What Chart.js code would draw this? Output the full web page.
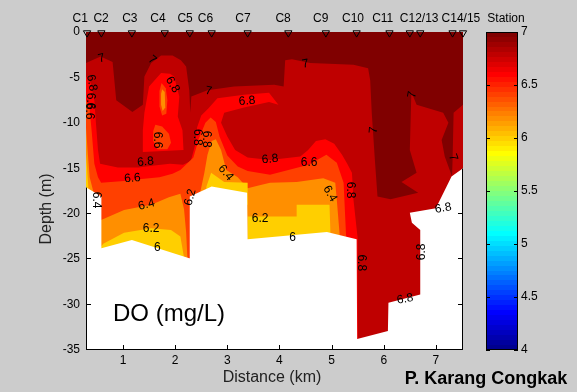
<!DOCTYPE html>
<html><head><meta charset="utf-8">
<script src="https://cdn.jsdelivr.net/npm/chart.js@4.4.0/dist/chart.umd.min.js"></script>
<style>
html,body{margin:0;padding:0;background:#cccccc;width:577px;height:392px;overflow:hidden;}
#main{position:absolute;left:0;top:0;}
#cbar{position:absolute;left:470px;top:0;}
</style></head><body>
<canvas id="main" width="577" height="392"></canvas>
<canvas id="cbar" width="107" height="392"></canvas>
<script>
// ---------------- data ----------------
const X_RANGE = [0.29, 7.52];          // km
const Y_RANGE = [-35, 0];              // m
const xTicks = [1, 2, 3, 4, 5, 6, 7];
const yTicks = [0, -5, -10, -15, -20, -25, -30, -35];
const stationKm = [0.31, 0.585, 1.17, 1.80, 2.28, 2.70, 3.39, 4.17, 4.89, 5.48, 6.11, 6.50, 6.70, 7.32, 7.52];
const stationLabels = ['C1','C2','C3','C4','C5','C6','C7','C8','C9','C10','C11','C12/13','C14/15'];
const stationLabelKm = [0.18, 0.58, 1.13, 1.67, 2.19, 2.58, 3.30, 4.07, 4.79, 5.41, 5.98, 6.68, 7.48];
const levels = [6.0, 6.2, 6.4, 6.6, 6.8, 7.0];
const cbarRange = [4, 7];
const cbarTicks = [4, 4.5, 5, 5.5, 6, 6.5, 7];

// sea floor (bottom of the sampled section), distance km / depth m
const seafloor = [[0.29,-17.1],[0.585,-18.1],[0.585,-23.8],[1.17,-22.9],[2.27,-24.9],[2.28,-18.1],[2.70,-17.0],[3.38,-17.7],[3.39,-22.8],[4.91,-22.0],[5.48,-22.8],[5.49,-33.8],[6.08,-32.9],[6.09,-29.8],[6.70,-28.9],[6.70,-21.8],[6.54,-21.0],[6.50,-19.9],[7.00,-19.4],[7.30,-15.9],[7.52,-15.0]];

// regions with DO < 6.8
const below68 = [
 [[0.29,-4.9],[0.38,-5.6],[0.45,-7.5],[0.48,-10],[0.52,-13],[0.56,-14.5],[0.9,-14.9],[1.3,-14.9],[1.6,-14.7],[1.9,-14.5],[2.15,-14.6],[2.30,-14.2],[2.38,-12.5],[2.42,-10.5],[2.50,-9.2],[2.64,-8.4],[2.81,-7.3],[3.32,-6.9],[3.80,-6.7],[3.98,-8.0],[3.80,-7.7],[3.32,-8.3],[2.94,-8.9],[2.88,-10.0],[3.0,-11.5],[3.15,-13.0],[3.39,-13.8],[3.82,-14.1],[4.40,-13.7],[4.55,-13.0],[4.70,-12.0],[4.88,-11.8],[5.05,-12.3],[5.20,-13.5],[5.30,-14.5],[5.39,-15.5],[5.42,-18.5],[5.50,-22.7],[5.50,-36],[0.29,-36]],
 [[1.73,-4.5],[1.90,-4.6],[1.98,-4.9],[2.08,-7.1],[2.05,-9.3],[2.14,-10.8],[2.16,-13.0],[1.38,-13.2],[1.38,-10.8],[1.41,-8.9],[1.50,-6.0]]
];
// regions with DO < 6.6
const below66 = [
 [[0.29,-7.5],[0.36,-8.5],[0.40,-11],[0.45,-14.5],[0.52,-16.0],[0.58,-16.6],[1.02,-16.4],[1.31,-16.2],[1.70,-16.0],[1.95,-15.6],[2.10,-15.2],[2.35,-13.8],[2.45,-11.8],[2.58,-10.0],[2.68,-9.4],[2.78,-9.9],[2.85,-11.5],[3.0,-13.6],[3.20,-14.8],[3.39,-15.3],[3.82,-15.7],[4.56,-14.6],[4.90,-13.5],[5.10,-14.4],[5.23,-16.6],[5.28,-22.7],[5.28,-36],[0.29,-36]],
 [[1.74,-5.6],[1.82,-6.2],[1.85,-7.5],[1.83,-9.0],[1.75,-9.2],[1.70,-8.2],[1.70,-6.5]],
 [[1.62,-10.2],[1.75,-10.4],[1.88,-11.2],[1.92,-12.2],[1.85,-12.9],[1.66,-12.9],[1.58,-12.0],[1.58,-10.9]]
];
// regions with DO < 6.4
const below64 = [
 [[0.29,-10.5],[0.32,-13],[0.36,-16],[0.45,-18],[0.55,-19.5],[0.58,-20.7],[1.02,-19.6],[1.54,-19.0],[1.88,-18.2],[2.10,-17.8],[2.17,-19.5],[2.21,-22],[2.24,-25.5],[2.24,-36],[0.29,-36]],
 [[2.45,-18.5],[2.56,-15.5],[2.62,-13.5],[2.70,-12.0],[2.78,-11.8],[2.88,-13.0],[2.98,-15.2],[3.20,-16.0],[3.39,-17.2],[3.60,-16.9],[3.82,-16.6],[4.33,-16.5],[4.84,-16.1],[5.07,-16.6],[5.10,-18.5],[5.16,-22.7],[5.16,-36],[2.45,-36]],
 [[1.75,-6.3],[1.80,-6.6],[1.81,-8.3],[1.76,-8.7],[1.73,-8.0],[1.73,-6.8]]
];
// regions with DO < 6.2
const below62 = [
 [[0.50,-24.2],[0.62,-23.3],[1.02,-22.1],[1.54,-21.6],[1.92,-21.8],[2.10,-22.5],[2.19,-25.5],[2.19,-36],[0.50,-36]],
 [[3.39,-20.3],[4.33,-20.3],[4.33,-19.0],[4.96,-19.0],[4.98,-22.5],[4.98,-36],[3.39,-36]],
 [[2.55,-19],[2.60,-17.0],[2.69,-15.5],[2.94,-16.5],[3.39,-16.6],[3.39,-19]],
 [[0.29,-13.5],[0.31,-15],[0.34,-17.5],[0.34,-20],[0.29,-20]]
];
// regions with DO >= 7
const above70 = [
 [[0.29,0],[7.52,0],[7.52,-8.0],[7.34,-8.9],[7.32,-14.1],[7.31,-15.9],[7.17,-13.7],[7.11,-11.9],[7.24,-10.0],[7.14,-8.9],[6.63,-8.0],[6.53,-6.6],[6.50,-13.0],[6.63,-15.5],[6.34,-16.5],[6.66,-17.7],[6.13,-18.4],[5.88,-18.1],[5.83,-14.1],[5.77,-8.9],[5.74,-5.3],[5.70,-4.0],[5.42,-3.6],[4.59,-3.4],[4.24,-3.0],[4.11,-3.1],[4.08,-6.0],[3.90,-5.8],[3.13,-6.0],[2.62,-6.4],[2.31,-7.1],[2.29,-8.9],[2.27,-6.4],[2.21,-3.8],[2.11,-3.1],[1.95,-2.6],[1.73,-2.6],[1.54,-3.4],[1.41,-4.9],[1.38,-8.0],[1.18,-8.8],[0.87,-7.5],[0.80,-3.3],[0.57,-2.7],[0.29,-3.4]]
];
// contour labels: km, depth, text, rotation (deg)
const contourLabels = [
 [0.59,-2.9,'7',-15],[1.56,-3.1,'7',40],[1.95,-5.8,'6.8',60],[2.64,-6.5,'7',10],
 [3.38,-7.6,'6.8',-5],[4.50,-3.5,'7',-10],[6.55,-6.9,'7',-80],[5.81,-10.8,'7',-85],
 [7.33,-13.8,'7',70],[0.40,-5.6,'6.8',80],[0.38,-7.6,'6.6',90],[0.36,-8.7,'6.6',90],
 [1.66,-11.9,'6.6',90],[2.43,-11.6,'6.8',90],[2.60,-11.8,'6.8',90],
 [1.43,-14.3,'6.8',-5],[1.18,-16.1,'6.6',-5],[0.49,-18.5,'6.4',90],[1.45,-19.0,'6.4',-15],
 [1.54,-21.6,'6.2',0],[1.66,-23.7,'6',0],[2.29,-18.2,'6.2',-75],[2.97,-15.5,'6.4',50],
 [3.82,-14.0,'6.8',-5],[4.57,-14.4,'6.6',0],[4.97,-17.8,'6.4',60],[3.63,-20.6,'6.2',0],
 [4.25,-22.6,'6',0],[5.36,-17.4,'6.8',90],[5.57,-25.4,'6.8',90],[6.72,-24.2,'6.8',-90],
 [6.41,-29.4,'6.8',-10],[7.14,-19.4,'6.8',-10]
];

// ---------------- colour map (MATLAB jet, 64) ----------------
function jetU(k){ if(k<1||k>47) return 0; if(k<=16) return k/16; if(k<=31) return 1; return (48-k)/16; }
function jetRGB(j){ return [jetU(j-24), jetU(j-8), jetU(j+8)].map(v=>Math.round(v*255)); }
function jetColor(j){ const c=jetRGB(j); return `rgb(${c[0]},${c[1]},${c[2]})`; }
function levelColor(v){ const j=Math.min(64, Math.floor((v-cbarRange[0])/(cbarRange[1]-cbarRange[0])*64)+1); return jetColor(j); }

Chart.defaults.font.family = "'Liberation Sans', Arial, Helvetica, sans-serif";
Chart.defaults.color = '#000';

// ---------------- datasets ----------------
const datasets = [];
function addPoly(pts, color, name){
  datasets.push({label:name, data:pts.map(p=>({x:p[0], y:p[1]})), showLine:true, fill:'shape',
    backgroundColor:color, borderColor:'rgba(0,0,0,0)', borderWidth:0, pointRadius:0, pointHoverRadius:0, tension:0});
}
const domainRect = [[X_RANGE[0],Y_RANGE[1]],[X_RANGE[1],Y_RANGE[1]],[X_RANGE[1],Y_RANGE[0]-1],[X_RANGE[0],Y_RANGE[0]-1]];
const maskPoly = seafloor.concat([[X_RANGE[1],Y_RANGE[0]-1],[X_RANGE[0],Y_RANGE[0]-1]]);
addPoly(domainRect, levelColor(levels[4]), 'DO 6.8-7');
below68.forEach(p=>addPoly(p, levelColor(levels[3]), 'DO 6.6-6.8'));
below66.forEach(p=>addPoly(p, levelColor(levels[2]), 'DO 6.4-6.6'));
below64.forEach(p=>addPoly(p, levelColor(levels[1]), 'DO 6.2-6.4'));
below62.forEach(p=>addPoly(p, levelColor(levels[0]), 'DO 6.0-6.2'));
above70.forEach(p=>addPoly(p, levelColor(levels[5]), 'DO >= 7'));
addPoly(maskPoly, '#ffffff', 'seafloor');
datasets.push({label:'stations', data:stationKm.map(k=>({x:k, y:-0.1})), showLine:false,
  pointStyle:'triangle', rotation:180, radius:4.2, pointRadius:4.2, borderColor:'#000', pointBorderColor:'#000',
  borderWidth:1, backgroundColor:'rgba(0,0,0,0)', pointBackgroundColor:'rgba(0,0,0,0)', clip:false});
datasets.forEach((d,i)=>{ d.order = datasets.length - i; });

const decor = {
  id:'decor',
  afterDatasetsDraw(chart){
    const {ctx, chartArea:ca, scales:{x, y}} = chart;
    // axes box and inward ticks, visible only where there is no data (below sea floor)
    ctx.save();
    ctx.beginPath();
    maskPoly.forEach((p,i)=>{ const px=x.getPixelForValue(p[0]), py=y.getPixelForValue(p[1]); if(i) ctx.lineTo(px,py); else ctx.moveTo(px,py); });
    ctx.closePath(); ctx.clip();
    ctx.strokeStyle='#000'; ctx.lineWidth=1;
    ctx.strokeRect(ca.left+0.5, ca.top+0.5, ca.width-1, ca.height-1);
    ctx.beginPath();
    xTicks.forEach(v=>{ const px=Math.round(x.getPixelForValue(v))+0.5; ctx.moveTo(px, ca.bottom); ctx.lineTo(px, ca.bottom-5); ctx.moveTo(px, ca.top); ctx.lineTo(px, ca.top+5); });
    yTicks.forEach(v=>{ const py=Math.round(y.getPixelForValue(v))-0.5; ctx.moveTo(ca.left, py); ctx.lineTo(ca.left+5, py); ctx.moveTo(ca.right, py); ctx.lineTo(ca.right-5, py); });
    ctx.stroke();
    ctx.restore();
    // contour labels
    ctx.save();
    ctx.fillStyle='#000'; ctx.font="12px 'Liberation Sans', Arial, sans-serif";
    ctx.textAlign='center'; ctx.textBaseline='middle';
    contourLabels.forEach(l=>{
      ctx.save(); ctx.translate(x.getPixelForValue(l[0]), y.getPixelForValue(l[1]));
      ctx.rotate(l[3]*Math.PI/180); ctx.fillText(l[2],0,0); ctx.restore();
    });
    ctx.restore();
  },
  afterDraw(chart){
    const {ctx, scales:{x}} = chart;
    ctx.save(); ctx.fillStyle='#000'; ctx.textAlign='center'; ctx.textBaseline='middle';
    ctx.font="12px 'Liberation Sans', Arial, sans-serif";
    stationLabels.forEach((s,i)=>ctx.fillText(s, x.getPixelForValue(stationLabelKm[i]), 19));
    ctx.fillText('Station', 506, 19);
    ctx.fillStyle='#222';
    ctx.font="16px 'Liberation Sans', Arial, sans-serif";
    ctx.fillText('Distance (km)', 272, 378);
    ctx.save(); ctx.translate(47, 209); ctx.rotate(-Math.PI/2); ctx.fillText('Depth (m)', 0, 0); ctx.restore();
    ctx.fillStyle='#000';
    ctx.font="24px 'Liberation Sans', Arial, sans-serif";
    ctx.fillText('DO (mg/L)', 169, 314);
    ctx.font="bold 18px 'Liberation Sans', Arial, sans-serif";
    ctx.fillText('P. Karang Congkak', 486, 379);
    ctx.restore();
  }
};

new Chart(document.getElementById('main'), {
  type:'scatter',
  data:{datasets},
  options:{
    responsive:false, animation:false, events:[], devicePixelRatio:1,
    layout:{padding:{left:0, top:32, right:114, bottom:0}},
    plugins:{legend:{display:false}, tooltip:{enabled:false}},
    scales:{
      x:{type:'linear', min:X_RANGE[0], max:X_RANGE[1],
         afterBuildTicks:s=>{ s.ticks = xTicks.map(v=>({value:v})); },
         afterFit:s=>{ s.height = 42; },
         grid:{display:false, drawTicks:false}, border:{display:false},
         ticks:{autoSkip:false, maxRotation:0, padding:3, font:{size:12}, color:'#000', callback:v=>String(v)}},
      y:{type:'linear', min:Y_RANGE[0], max:Y_RANGE[1],
         afterBuildTicks:s=>{ s.ticks = yTicks.map(v=>({value:v})); },
         afterFit:s=>{ s.width = 86; },
         grid:{display:false, drawTicks:false}, border:{display:false},
         ticks:{autoSkip:false, padding:6, font:{size:12}, color:'#000', callback:v=>String(v)}}
    }
  },
  plugins:[decor]
});

// ---------------- colour bar ----------------
const cbarDecor = {
  id:'cbarDecor',
  afterDatasetsDraw(chart){
    const {ctx, chartArea:ca, scales:{y}} = chart;
    ctx.save(); ctx.strokeStyle='#000'; ctx.lineWidth=1;
    ctx.strokeRect(ca.left+0.5, ca.top+0.5, ca.width-1, ca.height-1);
    ctx.beginPath();
    cbarTicks.forEach(v=>{ const py=Math.round(y.getPixelForValue(v))+0.5; ctx.moveTo(ca.left, py); ctx.lineTo(ca.left+4, py); ctx.moveTo(ca.right, py); ctx.lineTo(ca.right-4, py); });
    ctx.stroke(); ctx.restore();
  }
};
new Chart(document.getElementById('cbar'), {
  type:'bar',
  data:{labels:['DO'], datasets:[{data:[[cbarRange[0], cbarRange[1]]], borderWidth:0, barPercentage:1, categoryPercentage:1,
    backgroundColor:(c)=>{
      const ch=c.chart, ys=ch.scales.y;
      if(!ys || !ch.chartArea) return '#800000';
      const y0=ys.getPixelForValue(cbarRange[0]), y1=ys.getPixelForValue(cbarRange[1]);
      const g=ch.ctx.createLinearGradient(0,y0,0,y1);
      for(let k=0;k<64;k++){ const col=jetColor(k+1); g.addColorStop(k/64,col); g.addColorStop((k+1)/64,col); }
      return g;
    }}]},
  options:{
    responsive:false, animation:false, events:[], devicePixelRatio:1,
    layout:{padding:{left:16, top:32, bottom:42, right:0}},
    plugins:{legend:{display:false}, tooltip:{enabled:false}},
    scales:{
      x:{display:false},
      y:{position:'right', min:cbarRange[0], max:cbarRange[1],
         afterBuildTicks:s=>{ s.ticks = cbarTicks.map(v=>({value:v})); },
         afterFit:s=>{ s.width = 59; },
         grid:{display:false, drawTicks:false}, border:{display:false},
         ticks:{padding:3, font:{size:12}, color:'#000', callback:v=>String(v)}}
    }
  },
  plugins:[cbarDecor]
});
</script>
</body></html>
